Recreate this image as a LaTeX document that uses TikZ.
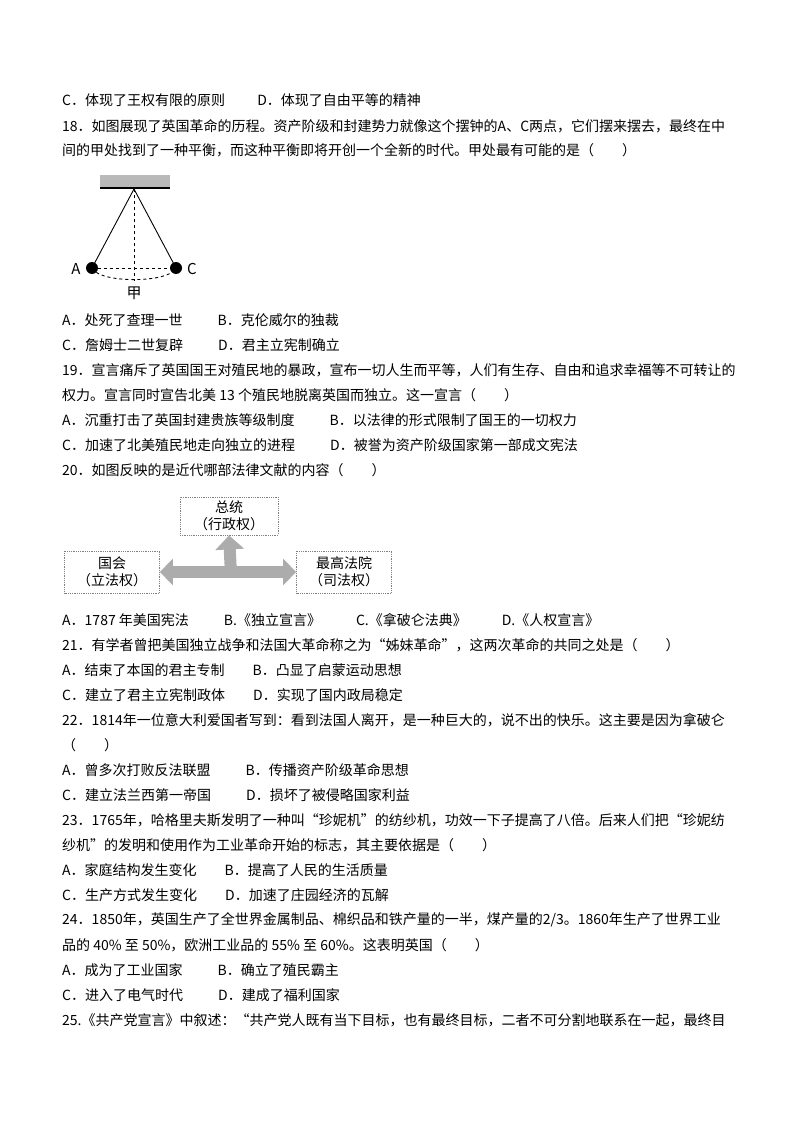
\documentclass[tikz,border=0pt]{standalone}
\usepackage{fontspec}
\setmainfont{Noto Sans CJK SC}
\usetikzlibrary{arrows.meta}
\begin{document}
\begin{tikzpicture}[x=1pt,y=-1pt,
  ln/.style={anchor=west,inner sep=0pt,font=\fontsize{14}{16}\selectfont},
  bx/.style={draw=gray,densely dotted,line width=0.8pt,minimum width=95pt,minimum height=42pt,align=center,font=\fontsize{14}{17}\selectfont},
  ball/.style={circle,fill=black,inner sep=0pt,minimum size=12pt}]
\useasboundingbox (0,0) rectangle (794,1123);
\fill[white] (0,0) rectangle (794,1123);
\def\L#1#2{\node[ln] at (62,#1) {#2};}
\def\J#1#2{\node[ln] at (62,#1) {\makebox[683pt][s]{#2}};}
\L{100}{C．体现了王权有限的原则\hspace{2.3em}D．体现了自由平等的精神}
\J{126}{18．如图展现了英国革命的历程。资产阶级和封建势力就像这个摆钟的A、C两点，它们摆来摆去，最终在中}
\L{150}{间的甲处找到了一种平衡，而这种平衡即将开创一个全新的时代。甲处最有可能的是（\hspace{2em}）}
\L{320}{A．处死了查理一世\hspace{2.5em}B．克伦威尔的独裁}
\L{345}{C．詹姆士二世复辟\hspace{2.5em}D．君主立宪制确立}
\J{370}{19．宣言痛斥了英国国王对殖民地的暴政，宣布一切人生而平等，人们有生存、自由和追求幸福等不可转让的}
\L{395}{权力。宣言同时宣告北美 13 个殖民地脱离英国而独立。这一宣言（\hspace{2em}）}
\L{420}{A．沉重打击了英国封建贵族等级制度\hspace{2.5em}B．以法律的形式限制了国王的一切权力}
\L{445}{C．加速了北美殖民地走向独立的进程\hspace{2.5em}D．被誉为资产阶级国家第一部成文宪法}
\L{470}{20．如图反映的是近代哪部法律文献的内容（\hspace{2em}）}
\L{620}{A．1787 年美国宪法\hspace{2.5em}B.《独立宣言》\hspace{2.5em}C.《拿破仑法典》\hspace{2.5em}D.《人权宣言》}
\L{645}{21．有学者曾把美国独立战争和法国大革命称之为“姊妹革命”，这两次革命的共同之处是（\hspace{2em}）}
\L{670}{A．结束了本国的君主专制\hspace{2em}B．凸显了启蒙运动思想}
\L{695}{C．建立了君主立宪制政体\hspace{2em}D．实现了国内政局稳定}
\J{720}{22．1814年一位意大利爱国者写到：看到法国人离开，是一种巨大的，说不出的快乐。这主要是因为拿破仑}
\L{745}{（\hspace{2em}）}
\L{770}{A．曾多次打败反法联盟\hspace{2.5em}B．传播资产阶级革命思想}
\L{795}{C．建立法兰西第一帝国\hspace{2.5em}D．损坏了被侵略国家利益}
\J{820}{23．1765年，哈格里夫斯发明了一种叫“珍妮机”的纺纱机，功效一下子提高了八倍。后来人们把“珍妮纺}
\L{845}{纱机”的发明和使用作为工业革命开始的标志，其主要依据是（\hspace{2em}）}
\L{870}{A．家庭结构发生变化\hspace{2em}B．提高了人民的生活质量}
\L{895}{C．生产方式发生变化\hspace{2em}D．加速了庄园经济的瓦解}
\J{920}{24．1850年，英国生产了全世界金属制品、棉织品和铁产量的一半，煤产量的2/3。1860年生产了世界工业}
\L{945}{品的 40\% 至 50\%，欧洲工业品的 55\% 至 60\%。这表明英国（\hspace{2em}）}
\L{970}{A．成为了工业国家\hspace{2.5em}B．确立了殖民霸主}
\L{995}{C．进入了电气时代\hspace{2.5em}D．建成了福利国家}
\J{1020}{25.《共产党宣言》中叙述：“共产党人既有当下目标，也有最终目标，二者不可分割地联系在一起，最终目}
% pendulum
\fill[gray!55] (100,175) rectangle (170,188);
\draw[line width=2pt] (100,188) -- (170,188);
\coordinate (P) at (134,189);
\node[ball] (A) at (92,268) {};
\node[ball] (C) at (176,268) {};
\draw[line width=0.9pt] (P) -- (A.center) (P) -- (C.center);
\draw[dashed,line width=0.9pt] (P) -- (134,281);
\draw[dashed,line width=0.9pt] (A) -- (C);
\draw[dashed,line width=0.9pt] (A.south east) .. controls (110,282) and (158,282) .. (C.south west);
\node[font=\fontsize{15}{15}\selectfont] at (76,269) {A};
\node[font=\fontsize{15}{15}\selectfont] at (192,269) {C};
\node[font=\fontsize{15}{15}\selectfont] at (134,293) {甲};
% constitution diagram
\node[bx,minimum width=98pt,minimum height=38pt] (pres) at (229,516) {总统\\（行政权）};
\node[bx] (cong) at (112,572) {国会\\（立法权）};
\node[bx] (court) at (344,572) {最高法院\\（司法权）};
\draw[gray!65,line width=12pt,-{Triangle[length=14pt,width=28pt]}] (231,574) -- (pres.south);
\draw[gray!65,line width=12pt,{Triangle[length=13pt,width=26pt]}-{Triangle[length=13pt,width=26pt]}] (cong.east) -- (court.west);
\end{tikzpicture}
\end{document}
